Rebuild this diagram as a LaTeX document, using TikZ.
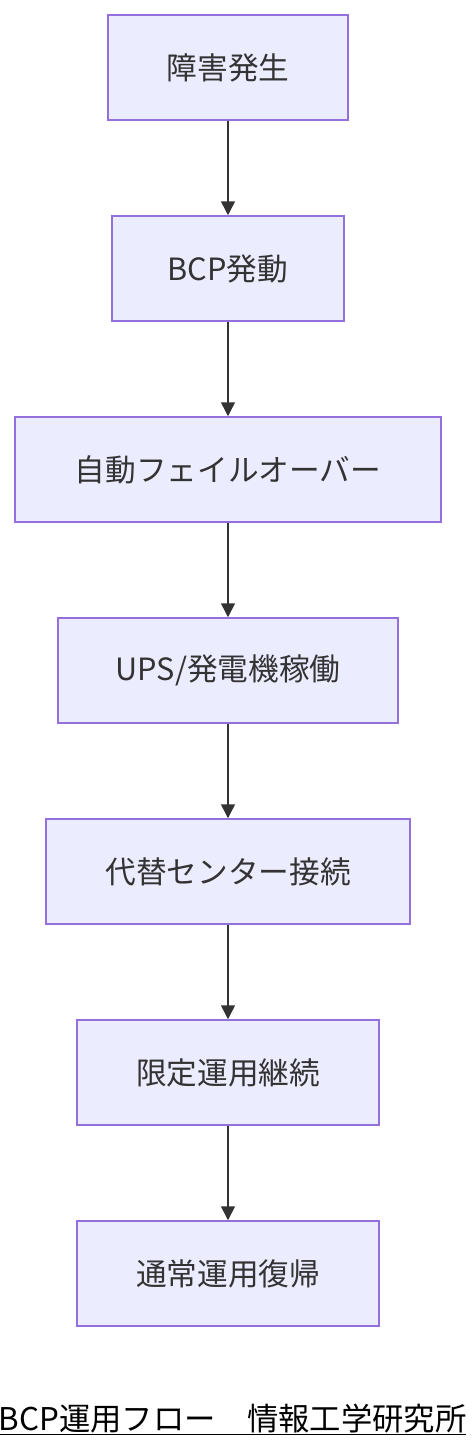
\documentclass[tikz,border=0pt]{standalone}
\usepackage{fontspec}
\setmainfont{Noto Sans CJK JP}
\usetikzlibrary{arrows.meta}
\definecolor{boxfill}{HTML}{ECECFF}
\definecolor{boxline}{HTML}{9370DB}
\definecolor{ink}{HTML}{333333}
\begin{document}
\begin{tikzpicture}[x=0.75pt,y=-0.75pt,
	flowbox/.style={draw=boxline,fill=boxfill,line width=1.5pt*0.75,text=ink,minimum height=105*0.75pt,inner sep=0pt,font=\fontsize{23}{27}\selectfont},
	flowarrow/.style={-{Triangle[length=10.5pt,width=10.5pt]},draw=ink,line width=1.5pt*0.75}]
			\useasboundingbox (0,0) rectangle (472,1452);
			\node[flowbox,minimum width=240*0.75pt] (Shogai) at (228,67.5) {障害発生};
			\node[flowbox,minimum width=232*0.75pt] (BCPHatsudo) at (228,268.5) {BCP発動};
			\node[flowbox,minimum width=426*0.75pt] (FailOver) at (228,469.5) {自動フェイルオーバー};
			\node[flowbox,minimum width=340*0.75pt] (UPSKado) at (228,670.5) {UPS/発電機稼働};
			\node[flowbox,minimum width=364*0.75pt] (DaitaiCenter) at (228,871.5) {代替センター接続};
			\node[flowbox,minimum width=302*0.75pt] (GenteiUnyo) at (228,1072.5) {限定運用継続};
			\node[flowbox,minimum width=302*0.75pt] (TsujoFukki) at (228,1273.5) {通常運用復帰};
			
			\draw[flowarrow] (Shogai) to (BCPHatsudo);
			\draw[flowarrow] (BCPHatsudo) to (FailOver);
			\draw[flowarrow] (FailOver) to (UPSKado);
			\draw[flowarrow] (UPSKado) to (DaitaiCenter);
			\draw[flowarrow] (DaitaiCenter) to (GenteiUnyo);
			\draw[flowarrow] (GenteiUnyo) to (TsujoFukki);
				\node[anchor=base,inner sep=0pt,font=\fontsize{23.5}{27}\selectfont] (Caption) at (232.5,1430) {\underline{BCP運用フロー　情報工学研究所}};
				
				\end{tikzpicture}
\end{document}
